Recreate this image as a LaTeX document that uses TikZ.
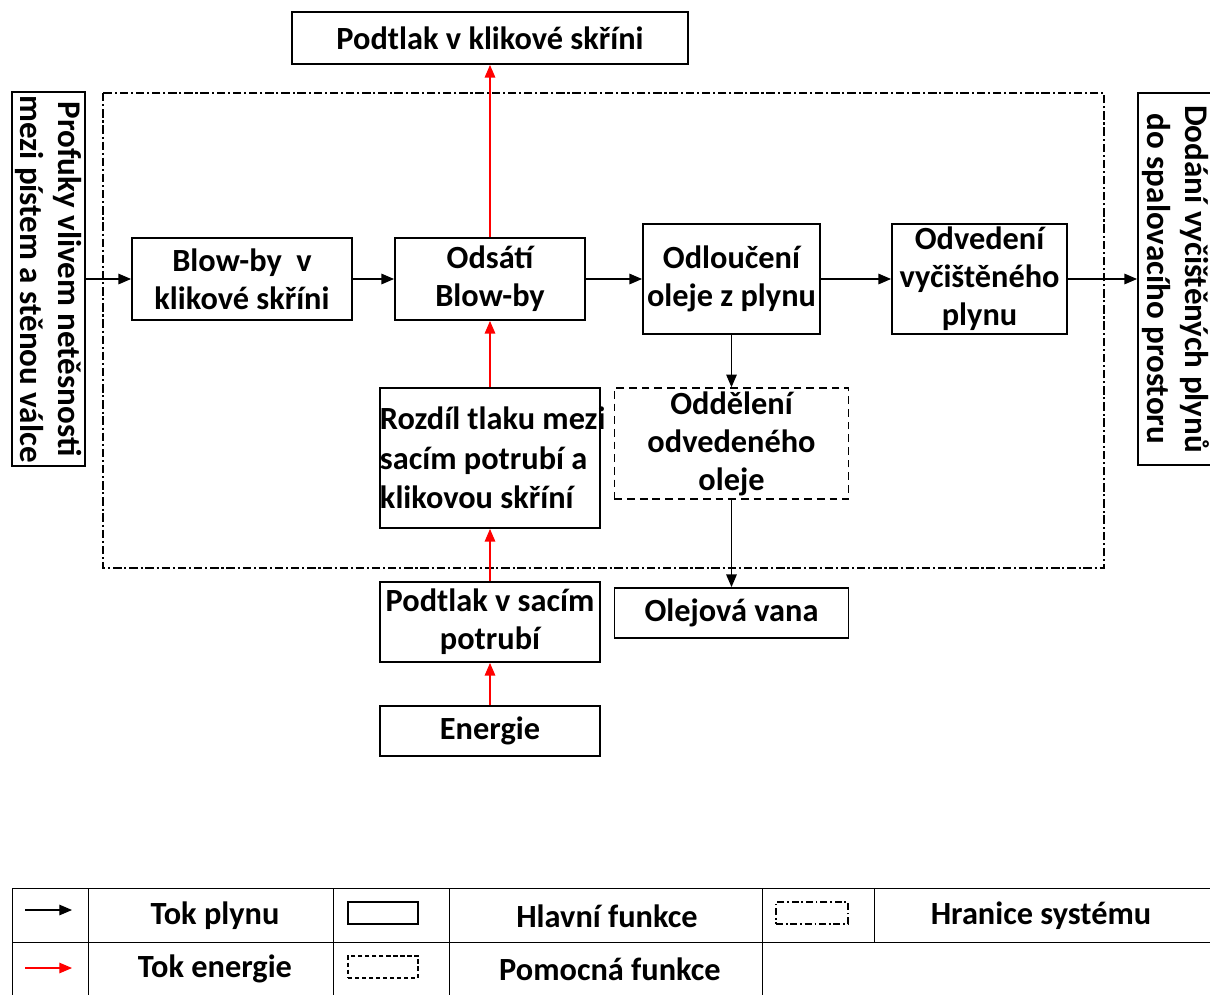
\documentclass[tikz,border=0pt]{standalone}
\usepackage{fontspec}
\setmainfont{Carlito}
\usetikzlibrary{arrows.meta}
\begin{document}
\begin{tikzpicture}[x=0.025cm, y=-0.025cm,
  base/.style={font=\fontsize{23}{27}\selectfont\bfseries, align=center, inner sep=0pt},
  mainbox/.style={base, draw, line width=1.3pt},
  auxbox/.style={base, draw, line width=1.1pt, dash pattern=on 5.5pt off 3.5pt},
  vertbox/.style={mainbox, rotate=-90, font=\fontsize{23.5}{27}\selectfont\bfseries},
  boundary/.style={line width=1pt, dash pattern=on 6pt off 2pt on 1.5pt off 2pt},
  gas/.style={-{Triangle[length=9pt,width=7.5pt]}, line width=0.9pt},
  energy/.style={gas, red},
  tab/.style={line width=0.7pt},
  legtext/.style={base, font=\fontsize{23}{26}\selectfont\bfseries}
]
\useasboundingbox (0,0) rectangle (1210,995);

% system boundary
\draw[boundary] (103,93) rectangle (1104,568);

% nodes
\node[mainbox, minimum width=9.9cm, minimum height=1.3cm] (top) at (490,38) {Podtlak v klikové skříni};
\node[vertbox, minimum width=9.35cm, minimum height=1.825cm] (left) at (48.5,279) {Profuky vlivem netěsnosti\\mezi pístem a stěnou válce};
\node[vertbox, minimum width=9.3cm, minimum height=1.9cm] (right) at (1176,279) {Dodání vyčištěných plynů\\do spalovacího prostoru};
\node[mainbox, minimum width=5.5cm, minimum height=2.05cm] (b1) at (242,279) {Blow-by\ \ v\\klikové skříni};
\node[mainbox, minimum width=4.75cm, minimum height=2.05cm] (b2) at (490,279) {Odsátí\\Blow-by};
\node[mainbox, minimum width=4.425cm, minimum height=2.75cm] (b3) at (731.5,279) {Odloučení\\oleje z plynu};
\node[mainbox, minimum width=4.375cm, minimum height=2.75cm] (b4) at (979.5,279) {Odvedení\\vyčištěného\\plynu};
\node[mainbox, minimum width=5.5cm, minimum height=3.5cm, align=flush left, text width=5.5cm, font=\fontsize{23}{28}\selectfont\bfseries] (r) at (490,458) {\mbox{Rozdíl tlaku mezi}\\\mbox{sacím potrubí a}\\\mbox{klikovou skříní}};
\node[auxbox, minimum width=5.85cm, minimum height=2.775cm] (od) at (731.5,443.5) {Oddělení\\odvedeného\\oleje};
\node[mainbox, minimum width=5.85cm, minimum height=1.25cm] (ov) at (731.5,613) {Olejová vana};
\node[mainbox, minimum width=5.5cm, minimum height=2.0cm] (ps) at (490,622) {Podtlak v sacím\\potrubí};
\node[mainbox, minimum width=5.5cm, minimum height=1.25cm] (en) at (490,731) {Energie};

% gas flow
\draw[gas] (left) -- (b1);
\draw[gas] (b1) -- (b2);
\draw[gas] (b2) -- (b3);
\draw[gas] (b3) -- (b4);
\draw[gas] (b4) -- (right);
\draw[gas] (b3) -- (od);
\draw[gas] (od) -- (ov);

% energy flow
\draw[energy] (b2) -- (top);
\draw[energy] (r) -- (b2);
\draw[energy] (ps) -- (r);
\draw[energy] (en) -- (ps);

% legend table
\draw[tab] (12,888) -- (1210,888);
\draw[tab] (12,942) -- (1210,942);
\draw[tab] (12,888) -- (12,995);
\draw[tab] (88,888) -- (88,995);
\draw[tab] (333,888) -- (333,995);
\draw[tab] (449,888) -- (449,995);
\draw[tab] (762,888) -- (762,995);
\draw[tab] (874,888) -- (874,942);

\coordinate (ga1) at (25,910);
\coordinate (ga2) at (72,910);
\draw[gas] (ga1) -- (ga2);
\coordinate (ea1) at (25,968);
\coordinate (ea2) at (72,968);
\draw[energy] (ea1) -- (ea2);

\node[legtext] (l1) at (215,916) {Tok plynu};
\node[legtext] (l2) at (215,969) {Tok energie};
\node[legtext] (l3) at (607,916) {Hlavní funkce};
\node[legtext] (l4) at (610,969) {Pomocná funkce};
\node[legtext] (l5) at (1041,916) {Hranice systému};

\node[draw, line width=1.3pt, minimum width=1.75cm, minimum height=0.55cm, inner sep=0pt] (s1) at (383,913) {};
\node[draw, line width=0.9pt, dash pattern=on 3pt off 2pt, minimum width=1.75cm, minimum height=0.55cm, inner sep=0pt] (s2) at (383,967) {};
\node[draw, line width=0.9pt, dash pattern=on 5pt off 2pt on 1.2pt off 2pt, minimum width=1.8cm, minimum height=0.55cm, inner sep=0pt] (s3) at (812,913) {};
\end{tikzpicture}
\end{document}
